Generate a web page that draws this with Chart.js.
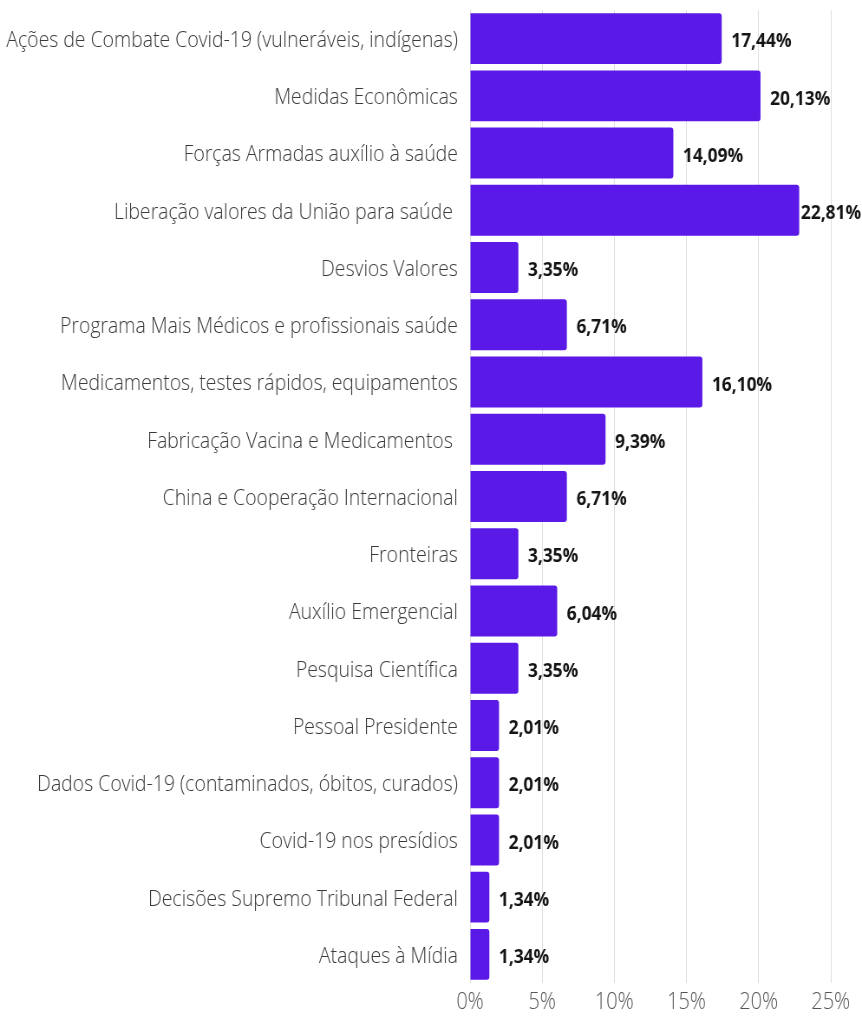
<!DOCTYPE html>
<html lang="pt">
<head>
  <meta charset="UTF-8">
  <title>Temas</title>
  <script src="https://cdn.jsdelivr.net/npm/chart.js"></script>
  <style>
    body { margin: 0; background: #ffffff; overflow: hidden; }
    /* gráfico desenhado mais largo e comprimido na horizontal */
    #wrap { width: 994px; height: 1017px; transform: scaleX(0.8672); transform-origin: 0 0; }
  </style>
</head>
<body>
  <div id="wrap"><canvas id="temas"></canvas></div>
  <script>
    const temas = [
      'Ações de Combate Covid-19 (vulneráveis, indígenas)',
      'Medidas Econômicas',
      'Forças Armadas auxílio à saúde',
      'Liberação valores da União para saúde ',
      'Desvios Valores',
      'Programa Mais Médicos e profissionais saúde',
      'Medicamentos, testes rápidos, equipamentos',
      'Fabricação Vacina e Medicamentos ',
      'China e Cooperação Internacional',
      'Fronteiras',
      'Auxílio Emergencial',
      'Pesquisa Científica',
      'Pessoal Presidente',
      'Dados Covid-19 (contaminados, óbitos, curados)',
      'Covid-19 nos presídios',
      'Decisões Supremo Tribunal Federal',
      'Ataques à Mídia'
    ];
    const percentuais = [17.44, 20.13, 14.09, 22.81, 3.35, 6.71, 16.10, 9.39, 6.71, 3.35, 6.04, 3.35, 2.01, 2.01, 2.01, 1.34, 1.34];
    const ticksX = [0, 5, 10, 15, 20, 25];

    const fmt = v => v.toFixed(2).replace('.', ',') + '%';

    // rótulos de valor à direita de cada barra (sem sair do canvas)
    const rotulos = {
      id: 'rotulos',
      afterDatasetsDraw(chart) {
        const ctx = chart.ctx;
        const meta = chart.getDatasetMeta(0);
        ctx.save();
        ctx.font = "700 20px 'Open Sans'";
        ctx.fillStyle = '#151515';
        ctx.textAlign = 'left';
        ctx.textBaseline = 'middle';
        meta.data.forEach((bar, i) => {
          const txt = fmt(percentuais[i]);
          const w = ctx.measureText(txt).width;
          const x = Math.min(bar.x + 11, chart.width - w - 1);
          ctx.fillText(txt, x, bar.y + 3);
        });
        ctx.restore();
      }
    };

    new Chart(document.getElementById('temas'), {
      type: 'bar',
      data: {
        labels: temas,
        datasets: [{
          data: percentuais,
          backgroundColor: '#5a19e6',
          borderRadius: 3,
          borderSkipped: 'start',
          categoryPercentage: 0.89,
          barPercentage: 1
        }]
      },
      options: {
        indexAxis: 'y',
        responsive: true,
        maintainAspectRatio: false,
        animation: false,
        layout: { padding: { top: 10, right: 36, left: 0, bottom: 0 } },
        plugins: { legend: { display: false }, tooltip: { enabled: false } },
        scales: {
          x: {
            min: 0,
            max: 25,
            afterBuildTicks: s => { s.ticks = ticksX.map(v => ({ value: v })); },
            afterFit: s => { s.height = 34; s.paddingLeft = 0; s.paddingRight = 0; },
            border: { display: false },
            grid: { color: '#dedede', drawTicks: false },
            ticks: {
              padding: 6,
              color: '#555',
              font: { family: 'Open Sans', weight: 300, size: 23 },
              callback: v => v + '%'
            }
          },
          y: {
            afterFit: s => { s.width = 542; s.paddingTop = 0; s.paddingBottom = 0; },
            border: { display: false },
            grid: { display: false, drawTicks: false },
            ticks: {
              padding: 14,
              labelOffset: 2,
              color: '#3a3a3a',
              font: { family: 'Open Sans', weight: 300, size: 22.4 }
            }
          }
        }
      },
      plugins: [rotulos]
    });
  </script>
</body>
</html>
